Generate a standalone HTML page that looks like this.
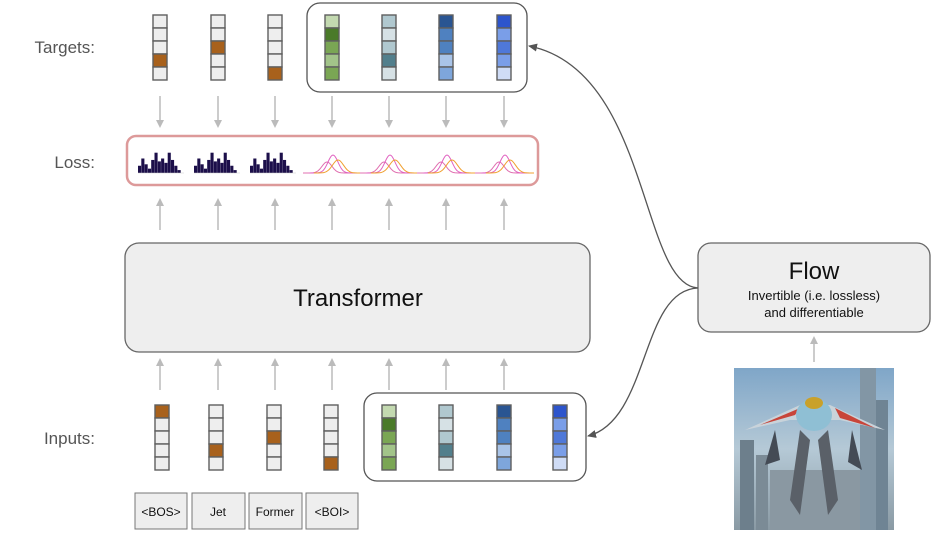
<!DOCTYPE html>
<html><head><meta charset="utf-8"><style>
html,body{margin:0;padding:0;background:#fff;width:938px;height:548px;overflow:hidden}
svg{display:block;font-family:"Liberation Sans",Arial,sans-serif}
</style></head><body>
<svg id="s" width="938" height="548" viewBox="0 0 938 548" xmlns="http://www.w3.org/2000/svg">
<defs>
<marker id="ag" markerWidth="8" markerHeight="8" refX="4" refY="4" orient="auto" markerUnits="userSpaceOnUse"><path d="M0,0 L8,4 L0,8 Z" fill="#bbb"/></marker>
<marker id="ad" markerWidth="9" markerHeight="8" refX="8" refY="4" orient="auto" markerUnits="userSpaceOnUse"><path d="M0,0 L9,4 L0,8 Z" fill="#555"/></marker>
<linearGradient id="sky" x1="0" y1="0" x2="0" y2="1"><stop offset="0" stop-color="#7fa6c8"/><stop offset="0.5" stop-color="#b5c9d6"/><stop offset="1" stop-color="#8a9aa4"/></linearGradient>
</defs>
<text x="95" y="53" font-size="17" fill="#555" text-anchor="end">Targets:</text>
<text x="95" y="168" font-size="17" fill="#555" text-anchor="end">Loss:</text>
<text x="95" y="444" font-size="17" fill="#555" text-anchor="end">Inputs:</text>
<rect x="307" y="3" width="220" height="89" rx="13" fill="none" stroke="#555" stroke-width="1.3"/>
<rect x="127" y="136" width="411" height="49" rx="9" fill="#fff" stroke="#dd9a9a" stroke-width="2.5"/>
<rect x="125" y="243" width="465" height="109" rx="14" fill="#eeeeee" stroke="#666" stroke-width="1.3"/>
<text x="358" y="306" font-size="24" text-anchor="middle" fill="#111">Transformer</text>
<rect x="364" y="393" width="222" height="88" rx="13" fill="none" stroke="#555" stroke-width="1.3"/>
<rect x="698" y="243" width="232" height="89" rx="13" fill="#eeeeee" stroke="#666" stroke-width="1.3"/>
<text x="814" y="279" font-size="24" text-anchor="middle" fill="#111">Flow</text>
<text x="814" y="300" font-size="13" text-anchor="middle" fill="#111">Invertible (i.e. lossless)</text>
<text x="814" y="317" font-size="13" text-anchor="middle" fill="#111">and differentiable</text>
<g font-size="12" text-anchor="middle" fill="#111">
<rect x="135" y="493" width="52" height="36" fill="#eee" stroke="#777"/><text x="161" y="516">&lt;BOS&gt;</text>
<rect x="192" y="493" width="53" height="36" fill="#eee" stroke="#777"/><text x="218" y="516">Jet</text>
<rect x="249" y="493" width="53" height="36" fill="#eee" stroke="#777"/><text x="275" y="516">Former</text>
<rect x="306" y="493" width="52" height="36" fill="#eee" stroke="#777"/><text x="332" y="516">&lt;BOI&gt;</text>
</g>
<path d="M698,288 C640,285 650,70 529,46" fill="none" stroke="#555" stroke-width="1.3" marker-end="url(#ad)"/>
<path d="M698,288 C640,290 650,420 588,436" fill="none" stroke="#555" stroke-width="1.3" marker-end="url(#ad)"/>
<line x1="814" y1="362" x2="814" y2="340" stroke="#bbb" stroke-width="1.5" marker-end="url(#ag)"/>
<g id="img">
<rect x="734" y="368" width="160" height="162" fill="url(#sky)"/>
<rect x="740" y="440" width="14" height="90" fill="#6d7f8c"/>
<rect x="756" y="455" width="12" height="75" fill="#7b8b96"/>
<rect x="860" y="368" width="16" height="162" fill="#8296a5"/>
<rect x="876" y="400" width="12" height="130" fill="#6f8494"/>
<rect x="770" y="470" width="90" height="60" fill="#8a98a2"/>
<path d="M745,430 L800,405 L830,405 L885,430 L840,420 L790,420 Z" fill="#c9d3da"/>
<path d="M760,425 L800,408 L795,415 Z" fill="#c8453a"/>
<path d="M835,408 L875,428 L840,418 Z" fill="#c8453a"/>
<ellipse cx="814" cy="415" rx="18" ry="16" fill="#8fbfd4"/>
<ellipse cx="814" cy="403" rx="9" ry="6" fill="#c9a12a"/>
<path d="M800,430 L790,500 L800,515 L810,440 Z" fill="#5a6068"/>
<path d="M828,430 L838,500 L828,515 L818,440 Z" fill="#5a6068"/>
<path d="M775,430 L765,465 L780,460 Z" fill="#444b55"/>
<path d="M852,430 L862,470 L848,462 Z" fill="#444b55"/>
</g>
<g id="g"></g>
</svg>
<script>
var g=document.getElementById('g'),h='';
var xs=[160,218,275,332,389,446,504],xi=[162,216,274,331,389,446,504,560];
var G=['#c3d9b0','#4a7a29','#7aa654','#a2c489','#7aa654'],T=['#b0c8cf','#d6e1e5','#b0c8cf','#527f8c','#d6e1e5'],
B=['#2a5592','#4f81c0','#4f81c0','#a9c4e8','#7ea6db'],L=['#2d55cc','#7a9ee8','#4f78d8','#7a9ee8','#cfdcf6'];
function col(cx,y,cols){for(var i=0;i<5;i++)h+='<rect x="'+(cx-7)+'" y="'+(y+i*13)+'" width="14" height="13" fill="'+cols[i]+'" stroke="#5f5f5f" stroke-width="1.4"/>';}
function one(k){var a=[];for(var i=0;i<5;i++)a.push(i==k?'#a8611c':'#eeeeee');return a;}
var tt=[one(3),one(2),one(4),G,T,B,L];
for(var i=0;i<7;i++){col(xs[i],15,tt[i]);
h+='<line x1="'+xs[i]+'" y1="96" x2="'+xs[i]+'" y2="124" stroke="#bbb" stroke-width="1.5" marker-end="url(#ag)"/>';
h+='<line x1="'+xs[i]+'" y1="230" x2="'+xs[i]+'" y2="202" stroke="#bbb" stroke-width="1.5" marker-end="url(#ag)"/>';
h+='<line x1="'+xs[i]+'" y1="390" x2="'+xs[i]+'" y2="362" stroke="#bbb" stroke-width="1.5" marker-end="url(#ag)"/>';}
var ti=[one(0),one(3),one(2),one(4),G,T,B,L];
for(var i=0;i<8;i++)col(xi[i],405,ti[i]);
var bars=[5,10,6,3,9,14,8,10,7,14,9,5,2];
for(var k=0;k<3;k++){var x0=138+k*56;for(var j=0;j<bars.length;j++)h+='<rect x="'+(x0+j*3.3)+'" y="'+(173-bars[j]*1.45)+'" width="3.1" height="'+(bars[j]*1.45)+'" fill="#1c0f4a"/>';
h+='<line x1="'+x0+'" y1="173" x2="'+(x0+46)+'" y2="173" stroke="#ccc" stroke-width="0.6"/>';}
function gau(cx,w,hh,c){var d='';for(var t=-24;t<=24;t++){var y=173-hh*Math.exp(-t*t/(2*w*w));d+=(t==-24?'M':'L')+(cx+t)+','+y.toFixed(1);}h+='<path d="'+d+'" fill="none" stroke="'+c+'" stroke-width="1"/>';}
for(var k=3;k<7;k++){var cx=xs[k]+1;gau(cx-6,5,11,'#e070b0');gau(cx,5,18,'#e060c0');gau(cx+5,5.5,13,'#f0a030');}
g.innerHTML=h;
</script>
</body></html>
